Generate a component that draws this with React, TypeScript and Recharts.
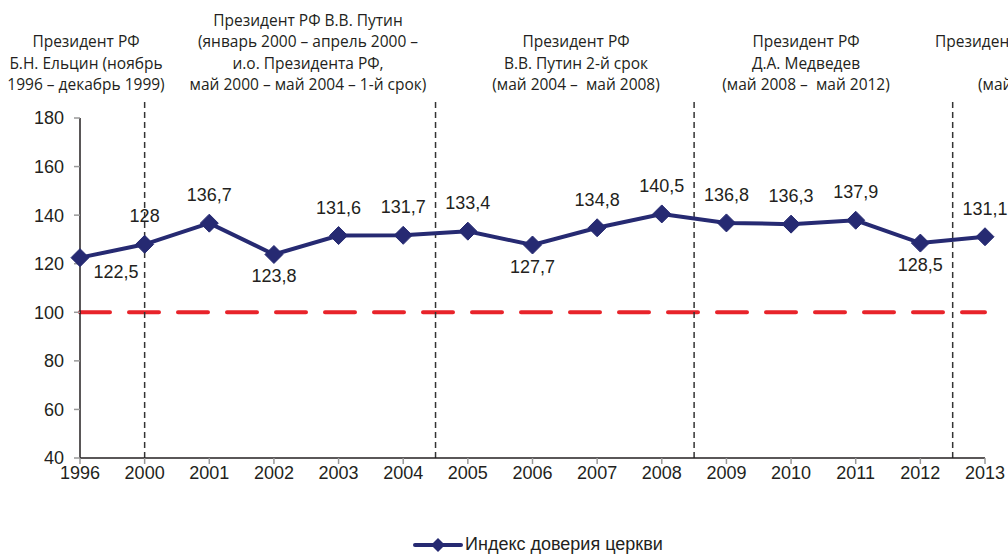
import React from "react";
import {
  LineChart,
  Line,
  XAxis,
  YAxis,
  ReferenceLine,
  LabelList,
  Legend,
} from "recharts";

const years = ["1996", "2000", "2001", "2002", "2003", "2004", "2005", "2006", "2007", "2008", "2009", "2010", "2011", "2012", "2013"];
const trustIndex = [122.5, 128, 136.7, 123.8, 131.6, 131.7, 133.4, 127.7, 134.8, 140.5, 136.8, 136.3, 137.9, 128.5, 131.1];
const yTicks = [40, 60, 80, 100, 120, 140, 160, 180];
// period borders, in category index units
const termBorders = [1, 5.5, 9.5, 13.5];
const labelsBelow = ["1996", "2002", "2006", "2012"];
const seriesName = "Индекс доверия церкви";

const periods = [
  { lines: ["Президент РФ", "Б.Н. Ельцин (ноябрь", "1996 – декабрь 1999)"], cx: 86 },
  { lines: ["Президент РФ В.В. Путин", "(январь 2000 – апрель 2000 –", "и.о. Президента РФ,", "май 2000 – май 2004 – 1-й срок)"], cx: 308 },
  { lines: ["Президент РФ", "В.В. Путин 2-й срок", "(май 2004 –  май 2008)"], cx: 576 },
  { lines: ["Президент РФ", "Д.А. Медведев", "(май 2008 –  май 2012)"], cx: 806 },
];

const data = years.map((y, i) => ({ i, year: y, value: trustIndex[i] }));

const NAVY = "#262A72";
const TEXT = "#231F20";
const ANN_FONT = "'Open Sans', 'Noto Sans', sans-serif";
const NUM_FONT = "'Liberation Sans', Arial, sans-serif";

const Diamond = (props: any) => {
  const { cx, cy } = props;
  if (cx == null || cy == null) return null;
  const r = 9;
  return (
    <polygon
      points={`${cx},${cy - r} ${cx + r},${cy} ${cx},${cy + r} ${cx - r},${cy}`}
      fill={NAVY}
      stroke={NAVY}
      strokeWidth={1}
    />
  );
};

const ValueLabel = (props: any) => {
  const { x, y, value, index } = props;
  const yr = years[index];
  const below = labelsBelow.includes(yr);
  let dx = 0;
  let dy = below ? 22 : -28;
  if (index === 0) {
    dx = 36;
    dy = 14;
  }
  return (
    <text
      x={x + dx}
      y={y + dy}
      textAnchor="middle"
      dominantBaseline="central"
      fontSize={18}
      fontFamily={NUM_FONT}
      fill={TEXT}
    >
      {String(value).replace(".", ",")}
    </text>
  );
};

const LegendContent = () => (
  <div style={{ display: "flex", alignItems: "center", marginLeft: 413 }}>
    <svg width={50} height={20}>
      <line x1={2} y1={10} x2={48} y2={10} stroke={NAVY} strokeWidth={4} strokeLinecap="round" />
      <polygon points="25,3 32,10 25,17 18,10" fill={NAVY} />
    </svg>
    <span style={{ fontFamily: NUM_FONT, fontSize: 18, color: TEXT, marginLeft: 2 }}>{seriesName}</span>
  </div>
);

export default function App() {
  return (
    <div style={{ position: "relative", width: 1008, height: 556, overflow: "hidden", background: "#fff" }}>
      <style>{`body{margin:0;overflow:hidden}`}</style>
      <LineChart
        width={1008}
        height={556}
        data={data}
        margin={{ top: 118, right: 23, left: 20, bottom: 44 }}
      >
        <XAxis
          dataKey="i"
          type="number"
          domain={[0, years.length - 1]}
          ticks={years.map((_, i) => i)}
          tickFormatter={(v: number) => years[v]}
          interval={0}
          height={30}
          axisLine={{ stroke: "#231F20", strokeWidth: 1.5 }}
          tickLine={{ stroke: "#999", strokeWidth: 1.5 }}
          tickSize={6}
          tickMargin={2}
          tick={{ fontSize: 18, fontFamily: NUM_FONT, fill: TEXT }}
        />
        <YAxis
          domain={[40, 180]}
          ticks={yTicks}
          width={60}
          interval={0}
          axisLine={{ stroke: "#231F20", strokeWidth: 1.5 }}
          tickLine={{ stroke: "#999", strokeWidth: 1.5 }}
          tickSize={6}
          tickMargin={10}
          tick={{ fontSize: 18, fontFamily: NUM_FONT, fill: TEXT }}
        />
        <ReferenceLine
          y={100}
          stroke="#E8232A"
          strokeWidth={4}
          strokeDasharray="30 19"
          strokeLinecap="round"
        />
        {termBorders.map((b) => (
          <ReferenceLine
            key={b}
            segment={[{ x: b, y: 40 }, { x: b, y: 187 }]}
            ifOverflow="visible"
            stroke="#333"
            strokeWidth={1.5}
            strokeDasharray="6 4"
          />
        ))}
        <Legend
          verticalAlign="bottom"
          height={24}
          content={<LegendContent />}
          wrapperStyle={{ top: 534, bottom: "auto", left: 0, width: 1008 }}
        />
        <Line
          dataKey="value"
          name={seriesName}
          stroke={NAVY}
          strokeWidth={4}
          dot={<Diamond />}
          activeDot={false}
          isAnimationActive={false}
        >
          <LabelList dataKey="value" content={<ValueLabel />} />
        </Line>
      </LineChart>
      {periods.map((p, k) => (
        <div
          key={k}
          style={{
            position: "absolute",
            left: p.cx - 150,
            width: 300,
            top: 85 - (p.lines.length - 0.5) * 21.5,
            textAlign: "center",
            fontFamily: ANN_FONT,
            fontSize: 15.5,
            lineHeight: "21.5px",
            color: TEXT,
            whiteSpace: "pre",
          }}
        >
          {p.lines.map((l, j) => (
            <div key={j}>{l}</div>
          ))}
        </div>
      ))}
      <div
        style={{
          position: "absolute",
          left: 935,
          top: 85 - 2.5 * 21.5,
          fontFamily: ANN_FONT,
          fontSize: 15.5,
          lineHeight: "21.5px",
          color: TEXT,
          whiteSpace: "pre",
        }}
      >
        <div>Президент РФ</div>
        <div style={{ paddingLeft: 90 }}>В.В. Путин 3-й срок</div>
        <div style={{ paddingLeft: 43 }}>(май 2012 – н.в.)</div>
      </div>
    </div>
  );
}
